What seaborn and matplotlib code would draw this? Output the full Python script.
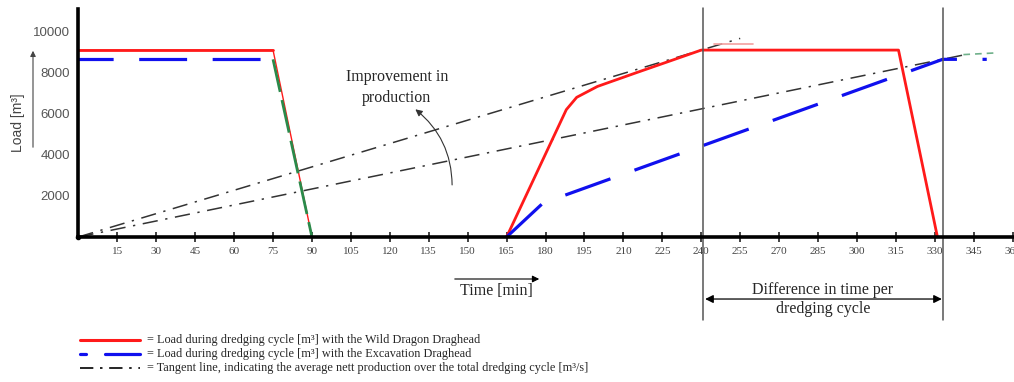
import numpy as np
import pandas as pd
import matplotlib
matplotlib.use("Agg")
import matplotlib.pyplot as plt
from matplotlib.lines import Line2D
from matplotlib.patches import FancyArrowPatch
import seaborn as sns

# --- data ---
wd_time_a = [0, 75, 90]
wd_load_a = [9100, 9100, 0]
wd_time_b = [165, 188, 192, 200, 215, 240, 316, 331]
wd_load_b = [0, 6200, 6800, 7330, 8000, 9100, 9100, 0]

ex_time_a = [0, 75]
ex_load_a = [8650, 8650]
ex_drop_time = [75, 90]
ex_drop_load = [8650, 0]
ex_time_b = [165, 179, 333, 350]
ex_load_b = [0, 1650, 8650, 8650]

tan_wd_time = [0, 255]
tan_wd_load = [0, 9670]
tan_ex_time = [0, 341]
tan_ex_load = [0, 8860]

cycle_end_wd = 240.5
cycle_end_ex = 333

time_ticks = list(range(15, 375, 15))
load_ticks = [2000, 4000, 6000, 8000, 10000]

sns.set_style("ticks")
plt.rcParams["font.family"] = ["Liberation Serif", "DejaVu Serif"]

fig = plt.figure(figsize=(10.14, 3.82), dpi=100)
ax = fig.add_axes([0.0773, 0.3796, 0.9227, 0.5968])

RED = "#ff1a1a"
BLUE = "#1010ee"
GREEN = "#2a8a4a"
TAN = "#333333"

def draw(t, v, **kw):
    df = pd.DataFrame({"t": t, "v": v})
    sns.lineplot(data=df, x="t", y="v", ax=ax, sort=False, estimator=None, **kw)

# tangent lines
draw(tan_wd_time, tan_wd_load, color=TAN, lw=1.1, linestyle=(0, (10, 5, 1.5, 5)))
draw(tan_ex_time, tan_ex_load, color=TAN, lw=1.1, linestyle=(0, (10, 5, 1.5, 5)))
draw([245, 260], [9380, 9380], color="#f4a0a0", lw=1.2)
draw([341, 353], [8880, 8960], color="#6fb08a", lw=1.2, linestyle=(0, (4, 3)))

# wild dragon
draw(wd_time_a, wd_load_a, color=RED, lw=1.0)
draw(wd_time_a[:2], wd_load_a[:2], color=RED, lw=2.0)
draw(wd_time_b, wd_load_b, color=RED, lw=2.0)

# excavation
draw(ex_time_a, ex_load_a, color=BLUE, lw=2.3, linestyle=(4, (15, 8)))
draw(ex_drop_time, ex_drop_load, color=GREEN, lw=2.0, linestyle=(0, (12, 3)))
draw(ex_time_b, ex_load_b, color=BLUE, lw=2.3, linestyle=(0, (15, 8)))

ax.set_xlim(0, 360.5)
ax.set_ylim(0, 11100)
ax.set_xlabel("")
ax.set_ylabel("")

for s in ["top", "right"]:
    ax.spines[s].set_visible(False)
for s in ["left", "bottom"]:
    ax.spines[s].set_linewidth(2.6)
    ax.spines[s].set_color("black")

ax.set_xticks(time_ticks)
ax.set_xticklabels([str(t) for t in time_ticks])
ax.tick_params(axis="x", direction="inout", length=7, width=1.2, pad=4,
               labelsize=8, labelcolor="#444444", color="#222222")
ax.set_yticks(load_ticks)
ax.set_yticklabels([str(v) for v in load_ticks], family="Liberation Sans")
ax.tick_params(axis="y", length=0, pad=6, labelsize=9.5, labelcolor="#555555")
ax.plot([0], [0], "o", color="black", ms=3, clip_on=False)

# cycle end markers
for xv in [cycle_end_wd, cycle_end_ex]:
    ax.plot([xv, xv], [-4050, 11150], color="#555555", lw=1.1, clip_on=False)

ax.annotate("", xy=(cycle_end_wd + 1, -3020), xytext=(cycle_end_ex - 0.3, -3020),
            arrowprops=dict(arrowstyle="<|-|>", color="black", lw=0.9,
                            mutation_scale=12, shrinkA=0, shrinkB=0),
            annotation_clip=False)
ax.text(286.8, -2600, "Difference in time per", ha="center", va="center", fontsize=11.5)
ax.text(286.8, -3520, "dredging cycle", ha="center", va="center", fontsize=11.5)

# improvement annotation
ax.text(122.7, 7800, "Improvement in", ha="center", va="center", fontsize=11.5)
ax.text(122.7, 6780, "production", ha="center", va="center", fontsize=11.5)
ax.annotate("", xy=(129, 6300), xytext=(144, 2400),
            arrowprops=dict(arrowstyle="-|>", color="#333333", lw=0.8,
                            mutation_scale=10, connectionstyle="arc3,rad=0.25"))

# axis titles with arrows
fig.text(496 / 1014, 1 - 291 / 382, "Time [min]", ha="center", va="center", fontsize=11.5)
fig.add_artist(FancyArrowPatch(
    (452 / 1014, 1 - 279 / 382), (542 / 1014, 1 - 279 / 382),
    transform=fig.transFigure, arrowstyle="-|>", mutation_scale=10,
    color="black", lw=0.8))
fig.text(18 / 1014, 1 - 123 / 382, "Load [m³]", rotation=90, ha="center",
         va="center", fontsize=10, family="Liberation Sans", color="#444444")
fig.add_artist(FancyArrowPatch(
    (33 / 1014, 1 - 150 / 382), (33 / 1014, 1 - 48 / 382),
    transform=fig.transFigure, arrowstyle="-|>", mutation_scale=8,
    color="#444444", lw=0.8))

# legend
legend_rows = [
    (340, RED, [(80, 140)], dict(lw=2.2), "= Load during dredging cycle [m³] with the Wild Dragon Draghead"),
    (354, BLUE, [(80, 86), (105, 140)], dict(lw=2.3), "= Load during dredging cycle [m³] with the Excavation Draghead"),
    (368, "black", [(80, 140)], dict(lw=1.2, linestyle=(0, (8, 4, 1.5, 4))),
     "= Tangent line, indicating the average nett production over the total dredging cycle [m³/s]"),
]
for ypx, col, segs, style, label in legend_rows:
    yf = 1 - ypx / 382
    for x0, x1 in segs:
        fig.add_artist(Line2D([x0 / 1014, x1 / 1014], [yf, yf], color=col,
                              transform=fig.transFigure, **style))
    fig.text(147 / 1014, yf, label, ha="left", va="center", fontsize=8.8)

fig.savefig("out.png", dpi=100)
